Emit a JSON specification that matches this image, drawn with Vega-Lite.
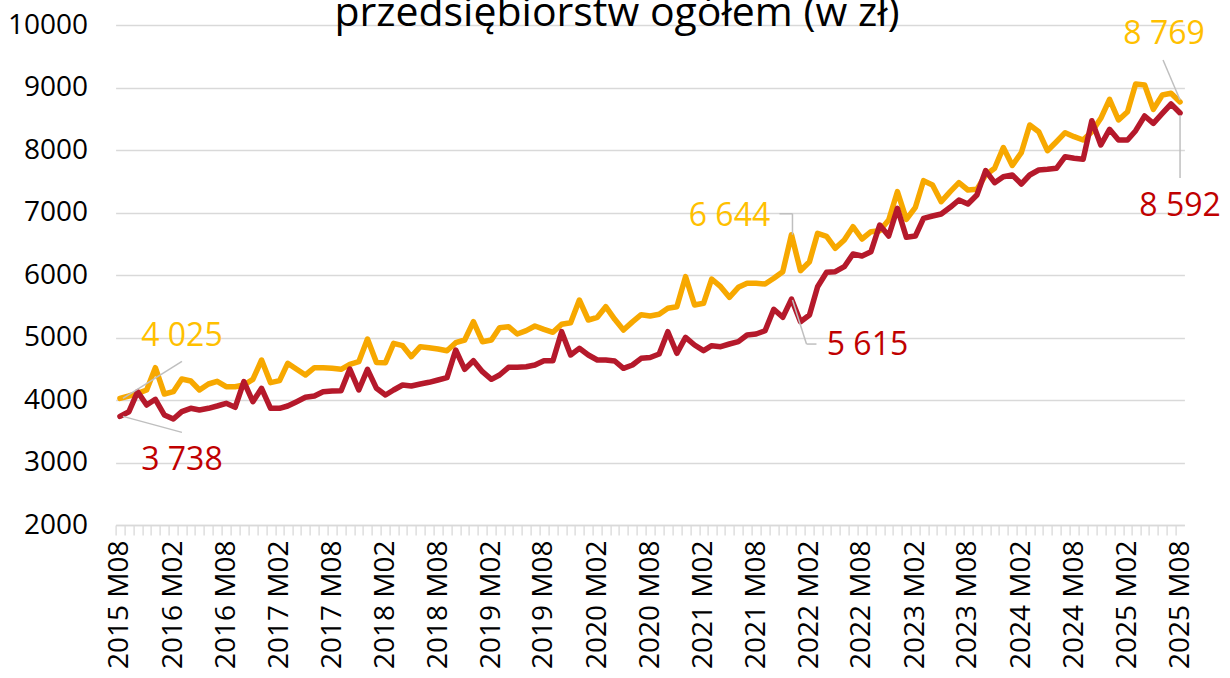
{
  "$schema": "https://vega.github.io/schema/vega-lite/v6.json",
  "width": 1068.8,
  "height": 500,
  "autosize": {"type": "none"},
  "padding": {"left": 115.6, "top": 25, "right": 45.6, "bottom": 153},
  "title": {"text": "przedsiębiorstw ogółem (w zł)", "font": "Open Sans", "fontSize": 41, "fontWeight": "normal", "color": "#000000", "anchor": "middle", "frame": "group", "baseline": "alphabetic", "offset": 0, "dx": -33, "dy": 56},
  "config": {
    "view": {"stroke": null},
    "font": "Open Sans",
    "locale": {"number": {"decimal": ",", "thousands": " ", "grouping": [3], "currency": ["", " zł"]}}
  },
  "data": {"values": [
    {"date":"2015-08-01","series":"seria 1","value":4025},{"date":"2015-09-01","series":"seria 1","value":4064},{"date":"2015-10-01","series":"seria 1","value":4107},{"date":"2015-11-01","series":"seria 1","value":4160},{"date":"2015-12-01","series":"seria 1","value":4517},
    {"date":"2016-01-01","series":"seria 1","value":4096},{"date":"2016-02-01","series":"seria 1","value":4133},{"date":"2016-03-01","series":"seria 1","value":4336},{"date":"2016-04-01","series":"seria 1","value":4304},{"date":"2016-05-01","series":"seria 1","value":4160},{"date":"2016-06-01","series":"seria 1","value":4256},{"date":"2016-07-01","series":"seria 1","value":4299},{"date":"2016-08-01","series":"seria 1","value":4213},{"date":"2016-09-01","series":"seria 1","value":4213},{"date":"2016-10-01","series":"seria 1","value":4240},{"date":"2016-11-01","series":"seria 1","value":4330},{"date":"2016-12-01","series":"seria 1","value":4640},
    {"date":"2017-01-01","series":"seria 1","value":4277},{"date":"2017-02-01","series":"seria 1","value":4309},{"date":"2017-03-01","series":"seria 1","value":4587},{"date":"2017-04-01","series":"seria 1","value":4491},{"date":"2017-05-01","series":"seria 1","value":4400},{"date":"2017-06-01","series":"seria 1","value":4517},{"date":"2017-07-01","series":"seria 1","value":4517},{"date":"2017-08-01","series":"seria 1","value":4507},{"date":"2017-09-01","series":"seria 1","value":4491},{"date":"2017-10-01","series":"seria 1","value":4570},{"date":"2017-11-01","series":"seria 1","value":4613},{"date":"2017-12-01","series":"seria 1","value":4976},
    {"date":"2018-01-01","series":"seria 1","value":4600},{"date":"2018-02-01","series":"seria 1","value":4597},{"date":"2018-03-01","series":"seria 1","value":4907},{"date":"2018-04-01","series":"seria 1","value":4869},{"date":"2018-05-01","series":"seria 1","value":4693},{"date":"2018-06-01","series":"seria 1","value":4853},{"date":"2018-07-01","series":"seria 1","value":4837},{"date":"2018-08-01","series":"seria 1","value":4816},{"date":"2018-09-01","series":"seria 1","value":4789},{"date":"2018-10-01","series":"seria 1","value":4917},{"date":"2018-11-01","series":"seria 1","value":4960},{"date":"2018-12-01","series":"seria 1","value":5253},
    {"date":"2019-01-01","series":"seria 1","value":4933},{"date":"2019-02-01","series":"seria 1","value":4960},{"date":"2019-03-01","series":"seria 1","value":5157},{"date":"2019-04-01","series":"seria 1","value":5173},{"date":"2019-05-01","series":"seria 1","value":5056},{"date":"2019-06-01","series":"seria 1","value":5109},{"date":"2019-07-01","series":"seria 1","value":5184},{"date":"2019-08-01","series":"seria 1","value":5131},{"date":"2019-09-01","series":"seria 1","value":5083},{"date":"2019-10-01","series":"seria 1","value":5211},{"date":"2019-11-01","series":"seria 1","value":5237},{"date":"2019-12-01","series":"seria 1","value":5600},
    {"date":"2020-01-01","series":"seria 1","value":5280},{"date":"2020-02-01","series":"seria 1","value":5323},{"date":"2020-03-01","series":"seria 1","value":5493},{"date":"2020-04-01","series":"seria 1","value":5291},{"date":"2020-05-01","series":"seria 1","value":5120},{"date":"2020-06-01","series":"seria 1","value":5250},{"date":"2020-07-01","series":"seria 1","value":5365},{"date":"2020-08-01","series":"seria 1","value":5344},{"date":"2020-09-01","series":"seria 1","value":5371},{"date":"2020-10-01","series":"seria 1","value":5467},{"date":"2020-11-01","series":"seria 1","value":5493},{"date":"2020-12-01","series":"seria 1","value":5973},
    {"date":"2021-01-01","series":"seria 1","value":5520},{"date":"2021-02-01","series":"seria 1","value":5547},{"date":"2021-03-01","series":"seria 1","value":5936},{"date":"2021-04-01","series":"seria 1","value":5813},{"date":"2021-05-01","series":"seria 1","value":5643},{"date":"2021-06-01","series":"seria 1","value":5803},{"date":"2021-07-01","series":"seria 1","value":5867},{"date":"2021-08-01","series":"seria 1","value":5867},{"date":"2021-09-01","series":"seria 1","value":5856},{"date":"2021-10-01","series":"seria 1","value":5947},{"date":"2021-11-01","series":"seria 1","value":6053},{"date":"2021-12-01","series":"seria 1","value":6644},
    {"date":"2022-01-01","series":"seria 1","value":6069},{"date":"2022-02-01","series":"seria 1","value":6213},{"date":"2022-03-01","series":"seria 1","value":6667},{"date":"2022-04-01","series":"seria 1","value":6618},{"date":"2022-05-01","series":"seria 1","value":6427},{"date":"2022-06-01","series":"seria 1","value":6560},{"date":"2022-07-01","series":"seria 1","value":6773},{"date":"2022-08-01","series":"seria 1","value":6576},{"date":"2022-09-01","series":"seria 1","value":6693},{"date":"2022-10-01","series":"seria 1","value":6709},{"date":"2022-11-01","series":"seria 1","value":6880},{"date":"2022-12-01","series":"seria 1","value":7333},
    {"date":"2023-01-01","series":"seria 1","value":6891},{"date":"2023-02-01","series":"seria 1","value":7083},{"date":"2023-03-01","series":"seria 1","value":7509},{"date":"2023-04-01","series":"seria 1","value":7440},{"date":"2023-05-01","series":"seria 1","value":7173},{"date":"2023-06-01","series":"seria 1","value":7333},{"date":"2023-07-01","series":"seria 1","value":7477},{"date":"2023-08-01","series":"seria 1","value":7360},{"date":"2023-09-01","series":"seria 1","value":7371},{"date":"2023-10-01","series":"seria 1","value":7600},{"date":"2023-11-01","series":"seria 1","value":7707},{"date":"2023-12-01","series":"seria 1","value":8040},
    {"date":"2024-01-01","series":"seria 1","value":7752},{"date":"2024-02-01","series":"seria 1","value":7957},{"date":"2024-03-01","series":"seria 1","value":8400},{"date":"2024-04-01","series":"seria 1","value":8293},{"date":"2024-05-01","series":"seria 1","value":7989},{"date":"2024-06-01","series":"seria 1","value":8133},{"date":"2024-07-01","series":"seria 1","value":8277},{"date":"2024-08-01","series":"seria 1","value":8213},{"date":"2024-09-01","series":"seria 1","value":8160},{"date":"2024-10-01","series":"seria 1","value":8293},{"date":"2024-11-01","series":"seria 1","value":8507},{"date":"2024-12-01","series":"seria 1","value":8811},
    {"date":"2025-01-01","series":"seria 1","value":8480},{"date":"2025-02-01","series":"seria 1","value":8613},{"date":"2025-03-01","series":"seria 1","value":9056},{"date":"2025-04-01","series":"seria 1","value":9040},{"date":"2025-05-01","series":"seria 1","value":8651},{"date":"2025-06-01","series":"seria 1","value":8880},{"date":"2025-07-01","series":"seria 1","value":8907},{"date":"2025-08-01","series":"seria 1","value":8769},
    {"date":"2015-08-01","series":"seria 2","value":3738},{"date":"2015-09-01","series":"seria 2","value":3813},{"date":"2015-10-01","series":"seria 2","value":4133},{"date":"2015-11-01","series":"seria 2","value":3920},{"date":"2015-12-01","series":"seria 2","value":4011},
    {"date":"2016-01-01","series":"seria 2","value":3760},{"date":"2016-02-01","series":"seria 2","value":3696},{"date":"2016-03-01","series":"seria 2","value":3813},{"date":"2016-04-01","series":"seria 2","value":3867},{"date":"2016-05-01","series":"seria 2","value":3840},{"date":"2016-06-01","series":"seria 2","value":3867},{"date":"2016-07-01","series":"seria 2","value":3904},{"date":"2016-08-01","series":"seria 2","value":3947},{"date":"2016-09-01","series":"seria 2","value":3883},{"date":"2016-10-01","series":"seria 2","value":4293},{"date":"2016-11-01","series":"seria 2","value":3973},{"date":"2016-12-01","series":"seria 2","value":4187},
    {"date":"2017-01-01","series":"seria 2","value":3867},{"date":"2017-02-01","series":"seria 2","value":3867},{"date":"2017-03-01","series":"seria 2","value":3904},{"date":"2017-04-01","series":"seria 2","value":3973},{"date":"2017-05-01","series":"seria 2","value":4043},{"date":"2017-06-01","series":"seria 2","value":4064},{"date":"2017-07-01","series":"seria 2","value":4133},{"date":"2017-08-01","series":"seria 2","value":4144},{"date":"2017-09-01","series":"seria 2","value":4149},{"date":"2017-10-01","series":"seria 2","value":4496},{"date":"2017-11-01","series":"seria 2","value":4160},{"date":"2017-12-01","series":"seria 2","value":4491},
    {"date":"2018-01-01","series":"seria 2","value":4187},{"date":"2018-02-01","series":"seria 2","value":4080},{"date":"2018-03-01","series":"seria 2","value":4160},{"date":"2018-04-01","series":"seria 2","value":4240},{"date":"2018-05-01","series":"seria 2","value":4224},{"date":"2018-06-01","series":"seria 2","value":4256},{"date":"2018-07-01","series":"seria 2","value":4283},{"date":"2018-08-01","series":"seria 2","value":4320},{"date":"2018-09-01","series":"seria 2","value":4357},{"date":"2018-10-01","series":"seria 2","value":4800},{"date":"2018-11-01","series":"seria 2","value":4491},{"date":"2018-12-01","series":"seria 2","value":4629},
    {"date":"2019-01-01","series":"seria 2","value":4453},{"date":"2019-02-01","series":"seria 2","value":4331},{"date":"2019-03-01","series":"seria 2","value":4400},{"date":"2019-04-01","series":"seria 2","value":4523},{"date":"2019-05-01","series":"seria 2","value":4523},{"date":"2019-06-01","series":"seria 2","value":4533},{"date":"2019-07-01","series":"seria 2","value":4560},{"date":"2019-08-01","series":"seria 2","value":4629},{"date":"2019-09-01","series":"seria 2","value":4629},{"date":"2019-10-01","series":"seria 2","value":5093},{"date":"2019-11-01","series":"seria 2","value":4720},{"date":"2019-12-01","series":"seria 2","value":4827},
    {"date":"2020-01-01","series":"seria 2","value":4720},{"date":"2020-02-01","series":"seria 2","value":4640},{"date":"2020-03-01","series":"seria 2","value":4640},{"date":"2020-04-01","series":"seria 2","value":4624},{"date":"2020-05-01","series":"seria 2","value":4507},{"date":"2020-06-01","series":"seria 2","value":4560},{"date":"2020-07-01","series":"seria 2","value":4667},{"date":"2020-08-01","series":"seria 2","value":4680},{"date":"2020-09-01","series":"seria 2","value":4736},{"date":"2020-10-01","series":"seria 2","value":5093},{"date":"2020-11-01","series":"seria 2","value":4747},{"date":"2020-12-01","series":"seria 2","value":5003},
    {"date":"2021-01-01","series":"seria 2","value":4880},{"date":"2021-02-01","series":"seria 2","value":4789},{"date":"2021-03-01","series":"seria 2","value":4869},{"date":"2021-04-01","series":"seria 2","value":4853},{"date":"2021-05-01","series":"seria 2","value":4896},{"date":"2021-06-01","series":"seria 2","value":4933},{"date":"2021-07-01","series":"seria 2","value":5040},{"date":"2021-08-01","series":"seria 2","value":5056},{"date":"2021-09-01","series":"seria 2","value":5109},{"date":"2021-10-01","series":"seria 2","value":5451},{"date":"2021-11-01","series":"seria 2","value":5323},{"date":"2021-12-01","series":"seria 2","value":5615},
    {"date":"2022-01-01","series":"seria 2","value":5253},{"date":"2022-02-01","series":"seria 2","value":5360},{"date":"2022-03-01","series":"seria 2","value":5813},{"date":"2022-04-01","series":"seria 2","value":6045},{"date":"2022-05-01","series":"seria 2","value":6053},{"date":"2022-06-01","series":"seria 2","value":6133},{"date":"2022-07-01","series":"seria 2","value":6336},{"date":"2022-08-01","series":"seria 2","value":6304},{"date":"2022-09-01","series":"seria 2","value":6373},{"date":"2022-10-01","series":"seria 2","value":6800},{"date":"2022-11-01","series":"seria 2","value":6624},{"date":"2022-12-01","series":"seria 2","value":7067},
    {"date":"2023-01-01","series":"seria 2","value":6603},{"date":"2023-02-01","series":"seria 2","value":6624},{"date":"2023-03-01","series":"seria 2","value":6907},{"date":"2023-04-01","series":"seria 2","value":6944},{"date":"2023-05-01","series":"seria 2","value":6976},{"date":"2023-06-01","series":"seria 2","value":7083},{"date":"2023-07-01","series":"seria 2","value":7200},{"date":"2023-08-01","series":"seria 2","value":7136},{"date":"2023-09-01","series":"seria 2","value":7280},{"date":"2023-10-01","series":"seria 2","value":7669},{"date":"2023-11-01","series":"seria 2","value":7477},{"date":"2023-12-01","series":"seria 2","value":7573},
    {"date":"2024-01-01","series":"seria 2","value":7600},{"date":"2024-02-01","series":"seria 2","value":7456},{"date":"2024-03-01","series":"seria 2","value":7600},{"date":"2024-04-01","series":"seria 2","value":7680},{"date":"2024-05-01","series":"seria 2","value":7691},{"date":"2024-06-01","series":"seria 2","value":7707},{"date":"2024-07-01","series":"seria 2","value":7893},{"date":"2024-08-01","series":"seria 2","value":7867},{"date":"2024-09-01","series":"seria 2","value":7851},{"date":"2024-10-01","series":"seria 2","value":8469},{"date":"2024-11-01","series":"seria 2","value":8080},{"date":"2024-12-01","series":"seria 2","value":8331},
    {"date":"2025-01-01","series":"seria 2","value":8160},{"date":"2025-02-01","series":"seria 2","value":8160},{"date":"2025-03-01","series":"seria 2","value":8309},{"date":"2025-04-01","series":"seria 2","value":8544},{"date":"2025-05-01","series":"seria 2","value":8427},{"date":"2025-06-01","series":"seria 2","value":8587},{"date":"2025-07-01","series":"seria 2","value":8736},{"date":"2025-08-01","series":"seria 2","value":8592}
  ]},
  "encoding": {
    "x": {
      "field": "date", "type": "temporal",
      "scale": {"type": "utc", "domain": [{"year": 2015, "month": 7, "date": 17, "utc": true}, {"year": 2025, "month": 8, "date": 16, "utc": true}]},
      "axis": {
        "title": null,
        "tickCount": {"interval": "month", "step": 1},
        "labelExpr": "(utcmonth(datum.value) == 1 || utcmonth(datum.value) == 7) ? utcFormat(datum.value, '%Y M%m') : ''",
        "labelAngle": -90, "labelAlign": "right", "labelBaseline": "middle",
        "labelFont": "Open Sans", "labelFontSize": 28, "labelColor": "#000000",
        "labelPadding": 5, "labelOverlap": false, "labelFlush": false, "labelBound": false,
        "ticks": true, "tickSize": 10, "tickColor": "#D9D9D9", "tickWidth": 1.3,
        "tickOffset": -4.4, "labelOffset": 4.4,
        "domain": true, "domainColor": "#D9D9D9", "domainWidth": 1.3,
        "grid": false
      }
    },
    "y": {
      "field": "value", "type": "quantitative",
      "scale": {"domain": [2000, 10000], "nice": false, "zero": false},
      "axis": {
        "title": null,
        "values": [2000, 3000, 4000, 5000, 6000, 7000, 8000, 9000, 10000],
        "format": "d",
        "grid": true, "gridColor": "#D9D9D9", "gridWidth": 1.3,
        "domain": false, "ticks": false,
        "labelPadding": 28, "labelFont": "Open Sans", "labelFontSize": 28, "labelColor": "#000000"
      }
    }
  },
  "layer": [
    {"transform": [{"filter": "datum.series == 'seria 1'"}], "mark": {"type": "line", "color": "#F7A800", "strokeWidth": 5.5, "strokeJoin": "round", "strokeCap": "round"}},
    {"transform": [{"filter": "datum.series == 'seria 2'"}], "mark": {"type": "line", "color": "#B5192B", "strokeWidth": 5.5, "strokeJoin": "round", "strokeCap": "round"}},

    {"transform": [{"filter": "datum.series == 'seria 1' && utcyear(datum.date) == 2015 && utcmonth(datum.date) == 7"}],
     "mark": {"type": "rule", "color": "#BFBFBF", "strokeWidth": 1.5, "xOffset": 3, "yOffset": 0, "x2Offset": 62, "y2Offset": -37},
     "encoding": {"x2": {"field": "date"}, "y2": {"field": "value"}}},
    {"transform": [{"filter": "datum.series == 'seria 2' && utcyear(datum.date) == 2015 && utcmonth(datum.date) == 7"}],
     "mark": {"type": "rule", "color": "#BFBFBF", "strokeWidth": 1.5, "xOffset": 3, "yOffset": 0, "x2Offset": 62, "y2Offset": 16},
     "encoding": {"x2": {"field": "date"}, "y2": {"field": "value"}}},
    {"transform": [{"filter": "datum.series == 'seria 1' && utcyear(datum.date) == 2021 && utcmonth(datum.date) == 11"}],
     "mark": {"type": "rule", "color": "#BFBFBF", "strokeWidth": 1.5, "xOffset": 1, "yOffset": 0, "x2Offset": 1, "y2Offset": -21},
     "encoding": {"x2": {"field": "date"}, "y2": {"field": "value"}}},
    {"transform": [{"filter": "datum.series == 'seria 1' && utcyear(datum.date) == 2021 && utcmonth(datum.date) == 11"}],
     "mark": {"type": "rule", "color": "#BFBFBF", "strokeWidth": 1.5, "xOffset": 1, "yOffset": -21, "x2Offset": -12, "y2Offset": -21},
     "encoding": {"x2": {"field": "date"}, "y2": {"field": "value"}}},
    {"transform": [{"filter": "datum.series == 'seria 2' && utcyear(datum.date) == 2021 && utcmonth(datum.date) == 11"}],
     "mark": {"type": "rule", "color": "#BFBFBF", "strokeWidth": 1.5, "xOffset": 1, "yOffset": 1, "x2Offset": 15, "y2Offset": 45},
     "encoding": {"x2": {"field": "date"}, "y2": {"field": "value"}}},
    {"transform": [{"filter": "datum.series == 'seria 2' && utcyear(datum.date) == 2021 && utcmonth(datum.date) == 11"}],
     "mark": {"type": "rule", "color": "#BFBFBF", "strokeWidth": 1.5, "xOffset": 15, "yOffset": 45, "x2Offset": 25, "y2Offset": 45},
     "encoding": {"x2": {"field": "date"}, "y2": {"field": "value"}}},
    {"transform": [{"filter": "datum.series == 'seria 1' && utcyear(datum.date) == 2025 && utcmonth(datum.date) == 7"}],
     "mark": {"type": "rule", "color": "#BFBFBF", "strokeWidth": 1.5, "xOffset": 0, "yOffset": -2, "x2Offset": -17, "y2Offset": -42},
     "encoding": {"x2": {"field": "date"}, "y2": {"field": "value"}}},
    {"transform": [{"filter": "datum.series == 'seria 2' && utcyear(datum.date) == 2025 && utcmonth(datum.date) == 7"}],
     "mark": {"type": "rule", "color": "#BFBFBF", "strokeWidth": 1.5, "xOffset": 0, "yOffset": 2, "x2Offset": 0, "y2Offset": 65},
     "encoding": {"x2": {"field": "date"}, "y2": {"field": "value"}}},

    {"transform": [{"filter": "datum.series == 'seria 1' && utcyear(datum.date) == 2015 && utcmonth(datum.date) == 7"}],
     "mark": {"type": "text", "font": "Open Sans", "fontSize": 32, "color": "#FFC000", "align": "center", "baseline": "middle", "dx": 62, "dy": -62},
     "encoding": {"text": {"field": "value", "type": "quantitative", "format": ","}}},
    {"transform": [{"filter": "datum.series == 'seria 2' && utcyear(datum.date) == 2015 && utcmonth(datum.date) == 7"}],
     "mark": {"type": "text", "font": "Open Sans", "fontSize": 32, "color": "#C00000", "align": "center", "baseline": "middle", "dx": 62, "dy": 44},
     "encoding": {"text": {"field": "value", "type": "quantitative", "format": ","}}},
    {"transform": [{"filter": "datum.series == 'seria 1' && utcyear(datum.date) == 2021 && utcmonth(datum.date) == 11"}],
     "mark": {"type": "text", "font": "Open Sans", "fontSize": 32, "color": "#FFC000", "align": "center", "baseline": "middle", "dx": -62, "dy": -19},
     "encoding": {"text": {"field": "value", "type": "quantitative", "format": ","}}},
    {"transform": [{"filter": "datum.series == 'seria 2' && utcyear(datum.date) == 2021 && utcmonth(datum.date) == 11"}],
     "mark": {"type": "text", "font": "Open Sans", "fontSize": 32, "color": "#C00000", "align": "center", "baseline": "middle", "dx": 76, "dy": 46},
     "encoding": {"text": {"field": "value", "type": "quantitative", "format": ","}}},
    {"transform": [{"filter": "datum.series == 'seria 1' && utcyear(datum.date) == 2025 && utcmonth(datum.date) == 7"}],
     "mark": {"type": "text", "font": "Open Sans", "fontSize": 32, "color": "#FFC000", "align": "center", "baseline": "middle", "dx": -16, "dy": -68},
     "encoding": {"text": {"field": "value", "type": "quantitative", "format": ","}}},
    {"transform": [{"filter": "datum.series == 'seria 2' && utcyear(datum.date) == 2025 && utcmonth(datum.date) == 7"}],
     "mark": {"type": "text", "font": "Open Sans", "fontSize": 32, "color": "#C00000", "align": "center", "baseline": "middle", "dx": 0, "dy": 93},
     "encoding": {"text": {"field": "value", "type": "quantitative", "format": ","}}}
  ]
}
